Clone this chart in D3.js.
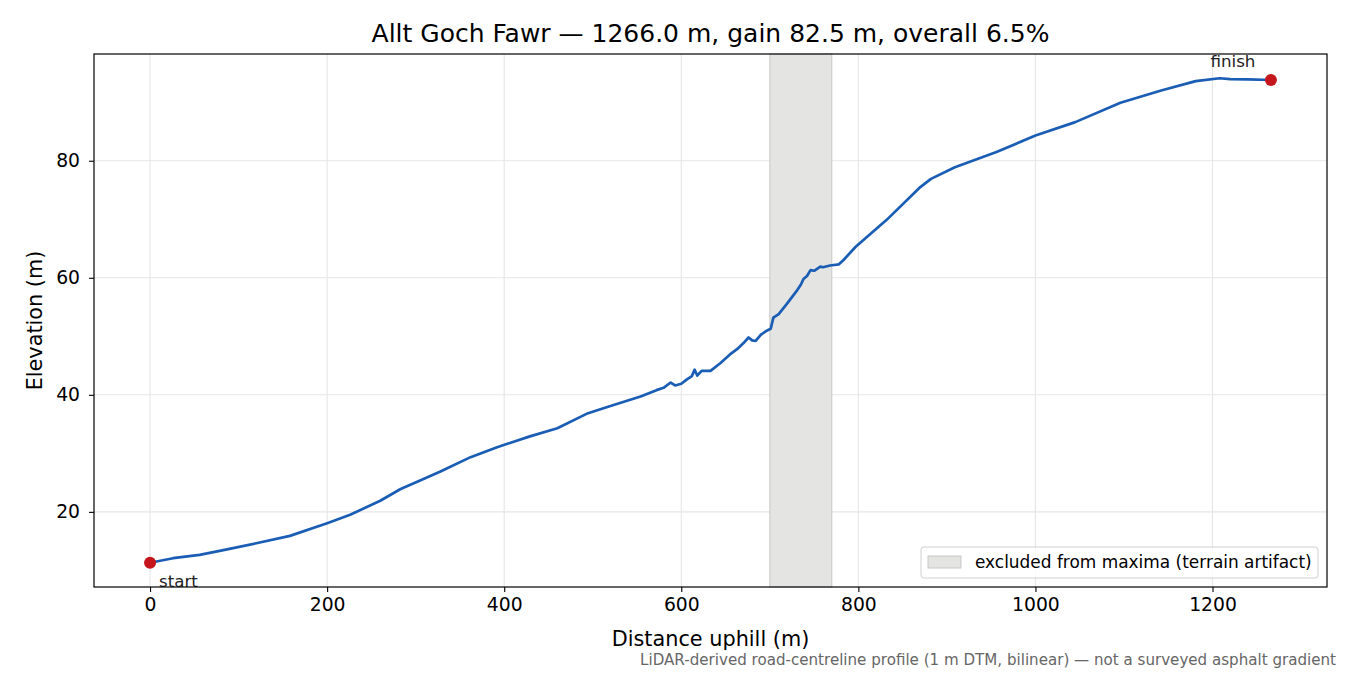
<!DOCTYPE html>
<meta charset="utf-8">
<script src="https://cdnjs.cloudflare.com/ajax/libs/d3/7.3.0/d3.min.js"></script>
<style>
  body { margin: 0; background: #fff; }
  svg text { font-family: "DejaVu Sans", sans-serif; }
</style>
<div id="chart"></div>
<script>
// profile
const distance = [0, 26, 56, 87, 120, 158, 200, 226, 260, 283, 305, 328, 362, 392, 429, 460, 493, 520,
  554, 572, 580, 588, 593, 600, 606, 612, 615, 618, 623, 633, 644, 655, 663, 670, 676, 680,
  684, 690, 697, 701, 704, 710, 719, 731, 735, 738, 742, 746, 750, 753, 757, 760, 768, 778, 783, 797,
  832, 870, 882, 909, 956, 1000, 1045, 1096, 1142, 1181, 1208, 1220, 1240, 1266];
const elevation = [11.3, 12.08, 12.65, 13.6, 14.64, 15.9, 18.07, 19.5, 21.9, 23.9, 25.35, 26.9, 29.35, 31.05, 32.9, 34.3, 36.75, 38.1,
  39.7, 40.8, 41.2, 42.1, 41.6, 41.9, 42.6, 43.2, 44.3, 43.3, 44.1, 44.1, 45.4, 46.9, 47.8, 48.8, 49.8, 49.3,
  49.2, 50.3, 51.0, 51.3, 53.2, 53.8, 55.5, 57.9, 58.8, 59.8, 60.3, 61.3, 61.2, 61.5, 61.9, 61.8, 62.1, 62.3, 63.0, 65.3,
  69.9, 75.5, 76.9, 78.9, 81.5, 84.3, 86.6, 89.9, 92.0, 93.6, 94.1, 93.95, 93.9, 93.8];
const excluded = [700, 770];
const xTicks = [0, 200, 400, 600, 800, 1000, 1200];
const yTicks = [20, 40, 60, 80];
const endLabels = ["start", "finish"];

const W = 1350, H = 675;
const margin = { top: 54, right: 23, bottom: 88, left: 94 };
const width = W - margin.left - margin.right,
      height = H - margin.top - margin.bottom;

const svg = d3.select("#chart").append("svg")
    .attr("width", W).attr("height", H);

const g = svg.append("g")
    .attr("transform", "translate(" + margin.left + "," + margin.top + ")");

const data = distance.map((d, i) => [d, elevation[i]]);

// matplotlib-style 5% padding
const xmin = 0, xmax = 1266;
const ymin = d3.min(elevation), ymax = d3.max(elevation);
const xp = (xmax - xmin) * 0.05, yp = (ymax - ymin) * 0.05;

const x = d3.scaleLinear().domain([xmin - xp, xmax + xp]).range([0, width]);
const y = d3.scaleLinear().domain([ymin - yp, ymax + yp]).range([height, 0]);

// grid
g.append("g").selectAll("line").data(xTicks).join("line")
    .attr("x1", d => x(d)).attr("x2", d => x(d))
    .attr("y1", 0).attr("y2", height)
    .attr("stroke", "#e6e6e6").attr("stroke-width", 1.1);
g.append("g").selectAll("line").data(yTicks).join("line")
    .attr("y1", d => y(d)).attr("y2", d => y(d))
    .attr("x1", 0).attr("x2", width)
    .attr("stroke", "#e6e6e6").attr("stroke-width", 1.1);

// excluded span
g.append("rect")
    .attr("x", x(excluded[0])).attr("width", x(excluded[1]) - x(excluded[0]))
    .attr("y", 0).attr("height", height)
    .attr("fill", "#e4e4e3").attr("stroke", "#c8c8c8").attr("stroke-width", 1);

// profile
g.append("path")
    .datum(data)
    .attr("fill", "none")
    .attr("stroke", "#1a5db4")
    .attr("stroke-width", 2.7)
    .attr("stroke-linejoin", "round")
    .attr("d", d3.line().x(d => x(d[0])).y(d => y(d[1])));

// end markers
const ends = [data[0], data[data.length - 1]];
g.selectAll(".end").data(ends).join("circle")
    .attr("cx", d => x(d[0])).attr("cy", d => y(d[1]))
    .attr("r", 6).attr("fill", "#c4161c");

g.append("text")
    .attr("x", x(ends[0][0]) + 9).attr("y", y(ends[0][1]) + 24)
    .attr("font-size", 16.7).attr("fill", "#222")
    .text(endLabels[0]);
g.append("text")
    .attr("x", x(ends[1][0]) - 38).attr("y", y(ends[1][1]) - 13)
    .attr("text-anchor", "middle")
    .attr("font-size", 16.7).attr("fill", "#222")
    .text(endLabels[1]);

// axes
const xAxis = g.append("g")
    .attr("transform", "translate(0," + height + ")")
    .call(d3.axisBottom(x).tickValues(xTicks).tickSize(5).tickPadding(6).tickFormat(d3.format("d")));
const yAxis = g.append("g")
    .call(d3.axisLeft(y).tickValues(yTicks).tickSize(5).tickPadding(9).tickFormat(d3.format("d")));
[xAxis, yAxis].forEach(a => {
  a.attr("font-size", null).attr("font-family", null);
  a.select(".domain").remove();
  a.selectAll("text").style("font-size", "18.75px").attr("fill", "#000");
  a.selectAll("line").attr("stroke", "#000").attr("stroke-width", 1.1);
});

// frame
g.append("rect")
    .attr("width", width).attr("height", height)
    .attr("fill", "none").attr("stroke", "#000").attr("stroke-width", 1.2);

// legend
const lg = g.append("g")
    .attr("transform", "translate(" + (width - 406) + "," + (height - 40) + ")");
lg.append("rect")
    .attr("width", 397).attr("height", 31).attr("rx", 3)
    .attr("fill", "#fff").attr("fill-opacity", 0.8)
    .attr("stroke", "#d0d0d0");
lg.append("rect")
    .attr("x", 7).attr("y", 9).attr("width", 33).attr("height", 12)
    .attr("fill", "#e4e4e3").attr("stroke", "#c8c8c8");
lg.append("text")
    .attr("x", 54).attr("y", 21)
    .attr("font-size", 16.95).attr("fill", "#000")
    .text("excluded from maxima (terrain artifact)");

// titles
svg.append("text")
    .attr("x", margin.left + width / 2).attr("y", 42)
    .attr("text-anchor", "middle").attr("font-size", 25)
    .text("Allt Goch Fawr \u2014 1266.0 m, gain 82.5 m, overall 6.5%");
svg.append("text")
    .attr("x", margin.left + width / 2).attr("y", 646)
    .attr("text-anchor", "middle").attr("font-size", 20.8)
    .text("Distance uphill (m)");
svg.append("text")
    .attr("transform", "translate(42," + (margin.top + height / 2) + ") rotate(-90)")
    .attr("text-anchor", "middle").attr("font-size", 20.8)
    .text("Elevation (m)");
svg.append("text")
    .attr("x", 1336).attr("y", 665)
    .attr("text-anchor", "end").attr("font-size", 15.1).attr("fill", "#666")
    .text("LiDAR-derived road-centreline profile (1 m DTM, bilinear) \u2014 not a surveyed asphalt gradient");
</script>
